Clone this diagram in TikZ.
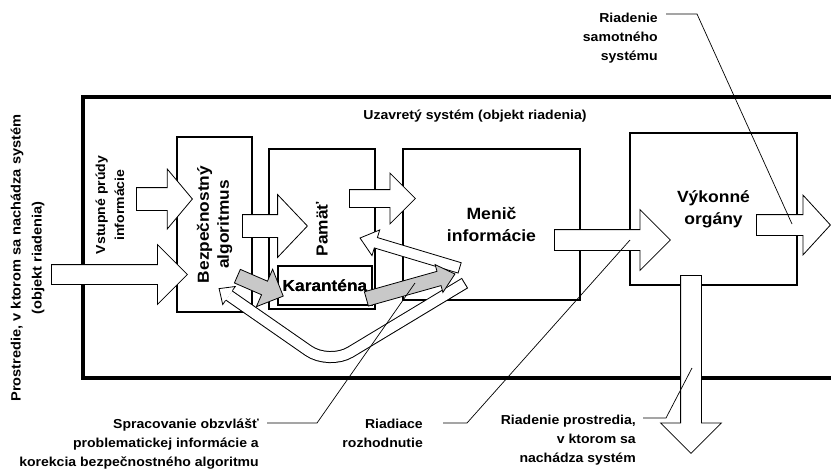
\documentclass[tikz,border=0pt]{standalone}
\usepackage{fontspec}
\setmainfont{Liberation Sans}[FakeStretch=1.08]
\usetikzlibrary{shapes.arrows}
\definecolor{karantenagray}{RGB}{200,200,200}

\begin{document}
\begin{tikzpicture}[x=1pt, y=-1pt,
    box/.style={draw, line width=1.8pt, fill=white, inner sep=0pt, align=center,
        font=\bfseries\fontsize{16}{21}\selectfont},
    blk/.style={single arrow, draw, line width=0.8pt, fill=white, inner xsep=0pt,
        single arrow head indent=0pt, anchor=tail},
    gblk/.style={blk, fill=karantenagray},
    lbl/.style={inner sep=0pt, align=right, font=\bfseries\fontsize{13}{19}\selectfont},
    leader/.style={line width=0.7pt}]

    \useasboundingbox (0,0) rectangle (831,472);

    % uzavrety system
    \draw[line width=3.5pt] (831,97) -- (83,97) -- (83,378) -- (831,378);
    \node[lbl] (title) at (475,116) {Uzavretý systém (objekt riadenia)};
    \node[lbl, rotate=90, align=center, font=\bfseries\fontsize{13.5}{21}\selectfont] (prostr) at (27.5,258)
        {Prostredie, v ktorom sa nachádza systém\\(objekt riadenia)};
    \node[lbl, rotate=90, align=center] (vstup) at (110,205) {Vstupné prúdy\\informácie};

    % bloky
    \node[box, rotate=90, minimum width=175, minimum height=75, font=\bfseries\fontsize{16}{20}\selectfont] (bezp) at (214.5,224.5) {Bezpečnostný\\algoritmus};
    \node[box, rotate=90, minimum width=160, minimum height=106] (pamat) at (322,229) {Pamäť};
    \node[box, minimum width=94, minimum height=39] (karant) at (325,285.5) {Karanténa};
    \node[box, minimum width=177, minimum height=151, font=\bfseries\fontsize{16.3}{22}\selectfont] (menic) at (491.5,224.5) {Menič\\informácie};
    \node[box, minimum width=167, minimum height=152, font=\bfseries\fontsize{16.2}{22}\selectfont] (vykon) at (713.5,209) {Výkonné\\orgány};

    % prudy informacie
    \node[blk, minimum height=136, inner ysep=9.5, single arrow head extend=20] (a-in) at (51,274.5) {};
    \node[blk, minimum height=56, inner ysep=11, single arrow head extend=18.5, single arrow tip angle=100] (a-vstup) at (136,199) {};
    \node[blk, minimum height=65, inner ysep=11, single arrow head extend=20, single arrow tip angle=93] (a-bp) at (242,226) {};
    \node[blk, minimum height=66, inner ysep=8.5, single arrow head extend=16.5] (a-pm) at (349,198.5) {};
    \node[blk, minimum height=116, inner ysep=10, single arrow head extend=20] (a-mv) at (554,240) {};
    \node[blk, minimum height=74, inner ysep=10, single arrow head extend=19.5, single arrow tip angle=95] (a-out) at (756,225) {};
    \node[blk, rotate=-90, minimum height=178, inner ysep=10, single arrow head extend=20] (a-down) at (691,275) {};

    % spatna vazba
    \draw[line width=12pt, rounded corners=25pt] (465,283) -- (329,365) -- (229,295.5);
    \draw[line width=10pt, white, rounded corners=25pt] (464.1,283.5) -- (329,365) -- (229,295.5);
    \fill[white] (232.4,290.6) -- (235.3,286.5) -- (219.1,288.6) -- (222.7,304.5) -- (225.6,300.4) -- cycle;
    \draw[line width=0.8pt] (232.4,290.6) -- (235.3,286.5) -- (219.1,288.6) -- (222.7,304.5) -- (225.6,300.4);
    \node[blk, rotate=163.3, minimum height=104, inner ysep=5, single arrow head extend=8, single arrow tip angle=78] (a-back) at (460,268) {};

    % karantena
    \node[gblk, rotate=-23.5, minimum height=50, inner ysep=7, single arrow head extend=13] (g-in) at (237,276) {};
    \node[gblk, rotate=15.7, minimum height=92, inner ysep=7, single arrow head extend=7, single arrow tip angle=82] (g-out) at (366,299) {};
    \node[box, draw=none, fill=none] at (karant) {Karanténa};

    % popisy
    \node[lbl, anchor=north east] (samot) at (658,12.5) {Riadenie\\samotného\\systému};
    \node[lbl, anchor=north east] (spracov) at (259,419) {Spracovanie obzvlášť\\problematickej informácie a\\korekcia bezpečnostného algoritmu};
    \node[lbl, anchor=north east] (riadiace) at (423,419) {Riadiace\\rozhodnutie};
    \node[lbl, anchor=north east] (prostr-r) at (636,414.5) {Riadenie prostredia,\\v ktorom sa\\nachádza systém};

    \coordinate (samot-k) at (697,14);
    \coordinate (samot-t) at (792,224);
    \coordinate (spracov-k) at (317,423);
    \coordinate (spracov-t) at (415,283);
    \coordinate (riadiace-k) at (467,423);
    \coordinate (riadiace-t) at (630,240);
    \coordinate (prostr-k) at (666,418);
    \coordinate (prostr-t) at (692,368);

    \draw[leader] ([shift={(8,1.5)}]samot.north east) -- (samot-k) -- (samot-t);
    \draw[leader] ([shift={(8,4)}]spracov.north east) -- (spracov-k) -- (spracov-t);
    \draw[leader] ([shift={(20,4)}]riadiace.north east) -- (riadiace-k) -- (riadiace-t);
    \draw[leader] ([shift={(7,3.5)}]prostr-r.north east) -- (prostr-k) -- (prostr-t);
\end{tikzpicture}
\end{document}
